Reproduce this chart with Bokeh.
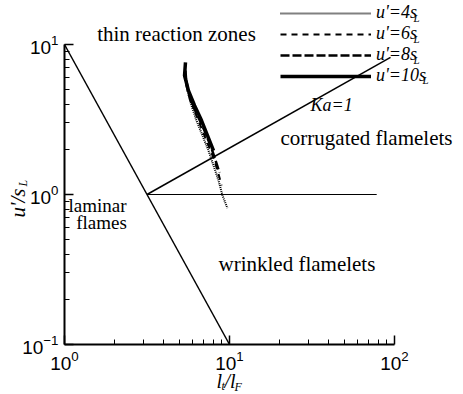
import math
from bokeh.plotting import figure
from bokeh.models import Range1d, Label, Legend, LegendItem, FixedTicker
from bokeh.embed import file_html
from bokeh.resources import INLINE

# ---- data ----
# regime boundaries
lam_x = [1.0, 10.0]
lam_y = [10.0, 0.1]
ka_x = [3.162, 94.6]
ka_y = [1.0, 8.2]
flat_x = [3.162, 78.0]
flat_y = [1.0, 1.0]

# trajectories for several turbulence intensities
u4_x = [5.56, 5.88, 6.31, 6.86, 7.46, 8.00, 8.58, 9.07, 9.72]
u4_y = [4.93, 3.92, 3.11, 2.47, 1.96, 1.56, 1.24, 0.985, 0.81]
u6_x = [5.49, 5.72, 6.14, 6.67, 7.25, 7.89, 8.46, 8.95]
u6_y = [5.75, 4.57, 3.63, 2.88, 2.29, 1.82, 1.45, 1.15]
u8_x = [5.41, 5.49, 5.80, 6.40, 7.05, 7.67, 8.23, 8.69]
u8_y = [6.71, 5.33, 4.23, 3.36, 2.67, 2.12, 1.69, 1.40]
u10_x = [5.41, 5.34, 5.64, 6.14, 6.77, 7.36, 8.00]
u10_y = [7.59, 6.21, 4.93, 3.92, 3.11, 2.47, 1.96]

series_labels = ["u'=4s", "u'=6s", "u'=8s", "u'=10s"]
x_ticks = [1, 10, 100]
y_ticks = [0.1, 1, 10]

# ---- layout helpers (pixel -> data, page coords) ----
X0, XDEC = 64.0, 165.0
Y0, YDEC = 194.0, 150.0
def px(x):
    return 10 ** ((x - X0) / XDEC)
def py(y):
    return 10 ** ((Y0 - y) / YDEC)

W, H = 463, 394

p = figure(width=W, height=H, x_axis_type="log", y_axis_type="log",
           x_range=Range1d(px(0), px(W)), y_range=Range1d(py(H), py(0)),
           output_backend="svg", toolbar_location=None,
           min_border=0, min_border_left=0, min_border_right=0,
           min_border_top=0, min_border_bottom=0)
p.outline_line_color = None
p.grid.visible = False
p.background_fill_color = "white"
p.border_fill_color = "white"

def minors(ticks):
    out = []
    for t in ticks[:-1]:
        out += [t * k for k in range(2, 10)]
    return out

p.xaxis.ticker = FixedTicker(ticks=x_ticks, minor_ticks=minors(x_ticks))
p.yaxis.ticker = FixedTicker(ticks=y_ticks, minor_ticks=minors(y_ticks))
p.xaxis.fixed_location = y_ticks[0]
p.yaxis.fixed_location = x_ticks[0]

for ax, b in ((p.xaxis[0], (1, 100)), (p.yaxis[0], (0.1, 10))):
    ax.bounds = b
    ax.axis_line_width = 2
    ax.axis_line_color = "black"
    ax.major_tick_in = 9
    ax.major_tick_out = 0
    ax.minor_tick_in = 5
    ax.minor_tick_out = 0
    ax.major_tick_line_width = 1.5
    ax.minor_tick_line_width = 1
    ax.major_label_text_font = "Liberation Sans"
    ax.major_label_text_font_size = "19px"
    ax.major_label_text_color = "black"
p.xaxis.major_label_standoff = 6
p.yaxis.major_label_standoff = 6

p.line(lam_x, lam_y, line_color="black", line_width=1.5)
p.line(ka_x, ka_y, line_color="black", line_width=1.5)
p.line(flat_x, flat_y, line_color="black", line_width=1.2)

r4 = p.line(u4_x, u4_y, line_color="black", line_width=2, line_dash="1 1")
r6 = p.line(u6_x, u6_y, line_color="black", line_width=2, line_dash="6 5")
r8 = p.line(u8_x, u8_y, line_color="black", line_width=2.5, line_dash="9 3")
r10 = p.line(u10_x, u10_y, line_color="black", line_width=3.5)

legend = Legend(items=[LegendItem(label=l, renderers=[r]) for l, r in
                       zip(series_labels, [r4, r6, r8, r10])],
                location=(280, 308), orientation="vertical",
                glyph_width=91, glyph_height=12, label_height=12,
                label_standoff=5, spacing=0, padding=0, margin=0,
                border_line_color=None, background_fill_alpha=0,
                label_text_font="Liberation Serif", label_text_font_style="italic",
                label_text_font_size="18px", label_text_color="black")
p.add_layout(legend, "center")

serif = "Liberation Serif"
def lab(text, x, y, size="21px", style="normal", align="left", angle=0.0, base="alphabetic"):
    p.add_layout(Label(x=x, y=y, text=text, text_font=serif, text_font_size=size,
                       text_font_style=style, text_align=align, text_baseline=base,
                       angle=angle, text_color="black"))

# subscripts of the legend labels
for i, xs in enumerate([413, 413, 413, 422]):
    lab("L", px(xs), py(13.3 + 20.7 * i + 4.5), size="11px", style="italic")

lab("thin reaction zones", px(176), py(33), align="center")
lab("Ka=1", px(310), py(104), style="italic", size="18px")
lab("corrugated flamelets", px(280), py(137))
lab("laminar", px(97), py(205), align="center", size="19px")
lab("flames", px(101), py(222), align="center", size="19px")
lab("wrinkled flamelets", px(218), py(263))

# axis titles
lab("l", px(216), py(380), size="20px", style="italic")
lab("t", px(221), py(385), size="12px", style="italic")
lab("/l", px(224), py(380), size="20px", style="italic")
lab("F", px(234), py(386), size="12px", style="italic")

lab("u'/s", px(17), py(217), size="21px", style="italic", angle=math.pi / 2)
lab("L", px(22), py(186), size="12px", style="italic", angle=math.pi / 2)

open("out.html", "w").write(file_html(p, INLINE))
